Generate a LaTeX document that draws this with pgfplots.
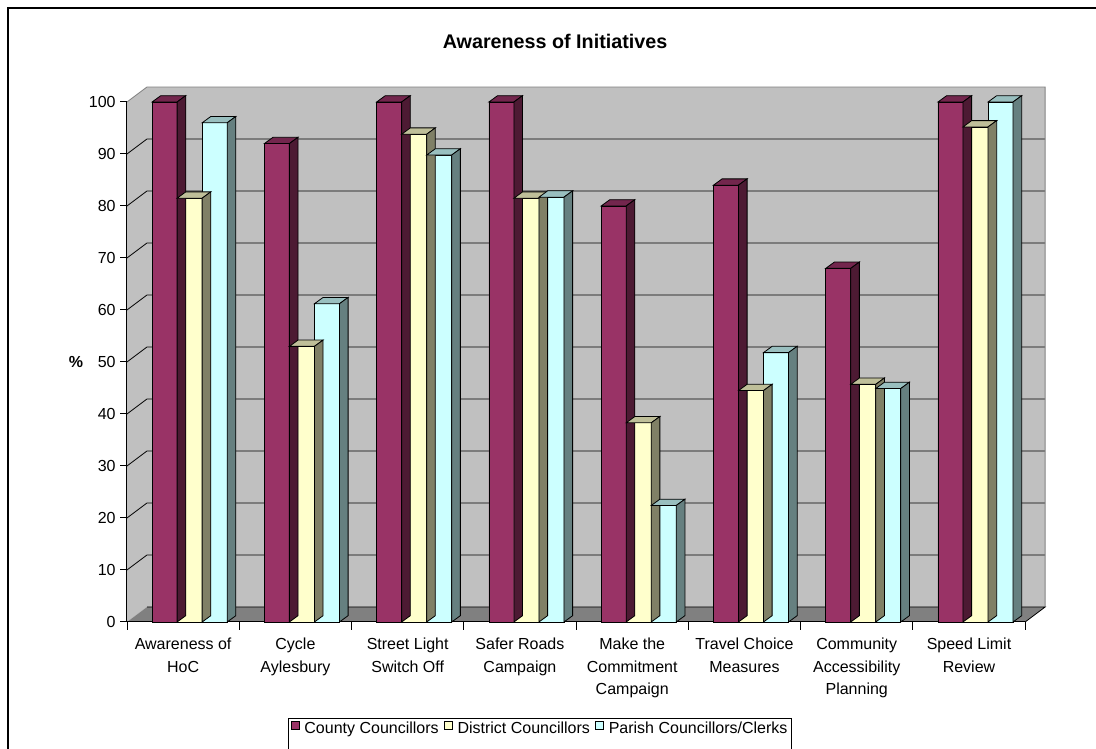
\documentclass[border=0pt]{standalone}
\usepackage{pgfplots}
\usepackage{pgfplotstable}
\pgfplotsset{compat=1.18}
\usepackage{fontspec}
\setmainfont{Liberation Sans}

\definecolor{cfront}{HTML}{993366}
\definecolor{ctop}{HTML}{73264D}
\definecolor{cside}{HTML}{4D1A33}
\definecolor{dfront}{HTML}{FFFFCC}
\definecolor{dtop}{HTML}{BFBF99}
\definecolor{dside}{HTML}{808066}
\definecolor{pfront}{HTML}{CCFFFF}
\definecolor{ptop}{HTML}{99BFBF}
\definecolor{pside}{HTML}{668080}
\definecolor{wallc}{HTML}{C0C0C0}
\definecolor{floorc}{HTML}{808080}

\pgfplotstableread{
idx county district parish
0 100 81.5 96
1 92 53 61.2
2 100 93.8 89.8
3 100 81.5 81.7
4 80 38.3 22.4
5 84 44.5 51.8
6 68 45.7 44.9
7 100 95.2 100
}\datatable

\newcommand{\declarebox}[3]{%
  \pgfdeclareplotmark{#1}{%
    \pgfmathsetlengthmacro{\barh}{\rawy*3.9pt}%
    \pgfsetfillcolor{#2}%
    \pgfpathmoveto{\pgfqpoint{-9.375pt}{0pt}}%
    \pgfpathlineto{\pgfqpoint{9.375pt}{0pt}}%
    \pgfpathlineto{\pgfqpoint{15.875pt}{4.75pt}}%
    \pgfpathlineto{\pgfqpoint{-2.875pt}{4.75pt}}%
    \pgfpathclose
    \pgfusepath{fill,stroke}%
    \pgfsetfillcolor{#3}%
    \pgfpathmoveto{\pgfqpoint{9.375pt}{0pt}}%
    \pgfpathlineto{\pgfqpoint{15.875pt}{4.75pt}}%
    \pgfpathlineto{\pgfpoint{15.875pt}{4.75pt-\barh}}%
    \pgfpathlineto{\pgfpoint{9.375pt}{-\barh}}%
    \pgfpathclose
    \pgfusepath{fill,stroke}%
  }}
\declarebox{boxC}{ctop}{cside}
\declarebox{boxD}{dtop}{dside}
\declarebox{boxP}{ptop}{pside}

\pgfplotsset{
  base/.style={
    x=84.2pt, y=3.9pt, xmin=-0.5, xmax=7.5, ymin=0, ymax=100,
    anchor=south west, at={(95.25pt,95.25pt)}, clip=false,
  },
  lgd/.style={legend image code/.code={\draw[##1, draw=black, line width=0.6pt] (0pt,-0.5pt) rectangle (6pt,5.5pt);}},
}

\begin{document}
\begin{tikzpicture}
\useasboundingbox (0,0) rectangle (822pt,561.75pt);
\clip (0,0) rectangle (822pt,561.75pt);
\fill[white] (0,0) rectangle (822pt,561.75pt);
\draw[line width=1.5pt] (6pt,555.75pt) rectangle (830pt,-10pt);

% walls, floor and category boundary ticks
\begin{axis}[base, axis x line=bottom, axis y line=none, axis line style={-, black, line width=0.75pt},
  xtick={-0.5,0.5,...,7.5}, xticklabels={,,,,,,,,}, ytick=\empty,
  tick align=outside, major tick length=6pt, xtick style={black, line width=0.75pt}]
  \fill[wallc] (axis cs:-0.5,0) -- ([shift={(15pt,11.25pt)}]axis cs:-0.5,0) -- ([shift={(15pt,11.25pt)}]axis cs:-0.5,100) -- (axis cs:-0.5,100) -- cycle;
  \fill[wallc] ([shift={(15pt,11.25pt)}]axis cs:-0.5,0) rectangle ([shift={(15pt,11.25pt)}]axis cs:7.5,100);
  \fill[floorc] (axis cs:-0.5,0) -- (axis cs:7.5,0) -- ([shift={(15pt,11.25pt)}]axis cs:7.5,0) -- ([shift={(15pt,11.25pt)}]axis cs:-0.5,0) -- cycle;
  \pgfplotsinvokeforeach{10,20,...,90}{
    \draw[black, line width=0.6pt] (axis cs:-0.5,#1) -- ([shift={(15pt,11.25pt)}]axis cs:-0.5,#1) -- ([shift={(15pt,11.25pt)}]axis cs:7.5,#1);
  }
  \draw[floorc, line width=0.6pt] (axis cs:-0.5,100) -- ([shift={(15pt,11.25pt)}]axis cs:-0.5,100) -- ([shift={(15pt,11.25pt)}]axis cs:7.5,100) -- ([shift={(15pt,11.25pt)}]axis cs:7.5,0);
  \draw[black, line width=0.6pt] ([shift={(15pt,11.25pt)}]axis cs:-0.5,0) -- ([shift={(15pt,11.25pt)}]axis cs:7.5,0) -- (axis cs:7.5,0);
\end{axis}

\begin{axis}[base,
  axis lines*=left, axis line style={-, black, line width=0.75pt},
  ytick={0,10,...,100}, tick align=outside, major tick length=5pt,
  ytick style={black, line width=0.75pt},
  /pgf/number format/assume math mode=true,
  yticklabel style={font=\fontsize{12}{14}\selectfont},
  xtick={0,1,2,3,4,5,6,7},
  xticklabels={{Awareness of\\HoC},{Cycle\\Aylesbury},{Street Light\\Switch Off},{Safer Roads\\Campaign},{Make the\\Commitment\\Campaign},{Travel Choice\\Measures},{Community\\Accessibility\\Planning},{Speed Limit\\Review}},
  xtick style={draw=none},
  xticklabel style={align=center, font=\fontsize{12}{17}\selectfont, yshift=-3.5pt},
  title={Awareness of Initiatives},
  title style={at={(axis description cs:0.4766,1.1005)}, anchor=center, font=\fontsize{14.8}{17}\selectfont\bfseries},
  ylabel={\%},
  every axis y label/.style={at={(axis description cs:-0.0568,0.5)}, anchor=center, font=\fontsize{12}{14}\selectfont\bfseries},
  legend style={at={(axis description cs:0.1793,-0.1808)}, anchor=north west, legend columns=3, draw=none, fill=none, font=\fontsize{12}{14}\selectfont, inner xsep=2pt, inner ysep=2pt, /tikz/every odd column/.append style={column sep=1.5pt}, /tikz/every even column/.append style={column sep=2pt}},
  lgd,
]
\addplot[ybar, bar width=18.75pt, bar shift=0pt, fill=cfront, draw=black, line width=0.6pt, lgd] table[x expr=\thisrow{idx}-0.165, y=county] {\datatable};
\addlegendentry{County Councillors}
\addplot[only marks, mark=boxC, mark options={draw=black, line width=0.6pt}, forget plot, visualization depends on={rawy \as \rawy}] table[x expr=\thisrow{idx}-0.165, y=county] {\datatable};

\addplot[ybar, bar width=18.75pt, bar shift=0pt, fill=dfront, draw=black, line width=0.6pt, lgd] table[x expr=\thisrow{idx}+0.058, y=district] {\datatable};
\addlegendentry{District Councillors}
\addplot[only marks, mark=boxD, mark options={draw=black, line width=0.6pt}, forget plot, visualization depends on={rawy \as \rawy}] table[x expr=\thisrow{idx}+0.058, y=district] {\datatable};

\addplot[ybar, bar width=18.75pt, bar shift=0pt, fill=pfront, draw=black, line width=0.6pt, lgd] table[x expr=\thisrow{idx}+0.281, y=parish] {\datatable};
\addlegendentry{Parish Councillors/Clerks}
\addplot[only marks, mark=boxP, mark options={draw=black, line width=0.6pt}, forget plot, visualization depends on={rawy \as \rawy}] table[x expr=\thisrow{idx}+0.281, y=parish] {\datatable};

\draw[black, line width=0.75pt] (axis description cs:0.1793,-0.32) -- (axis description cs:0.1793,-0.1865) -- (axis description cs:0.7394,-0.1865) -- (axis description cs:0.7394,-0.32);
\end{axis}
\end{tikzpicture}
\end{document}
